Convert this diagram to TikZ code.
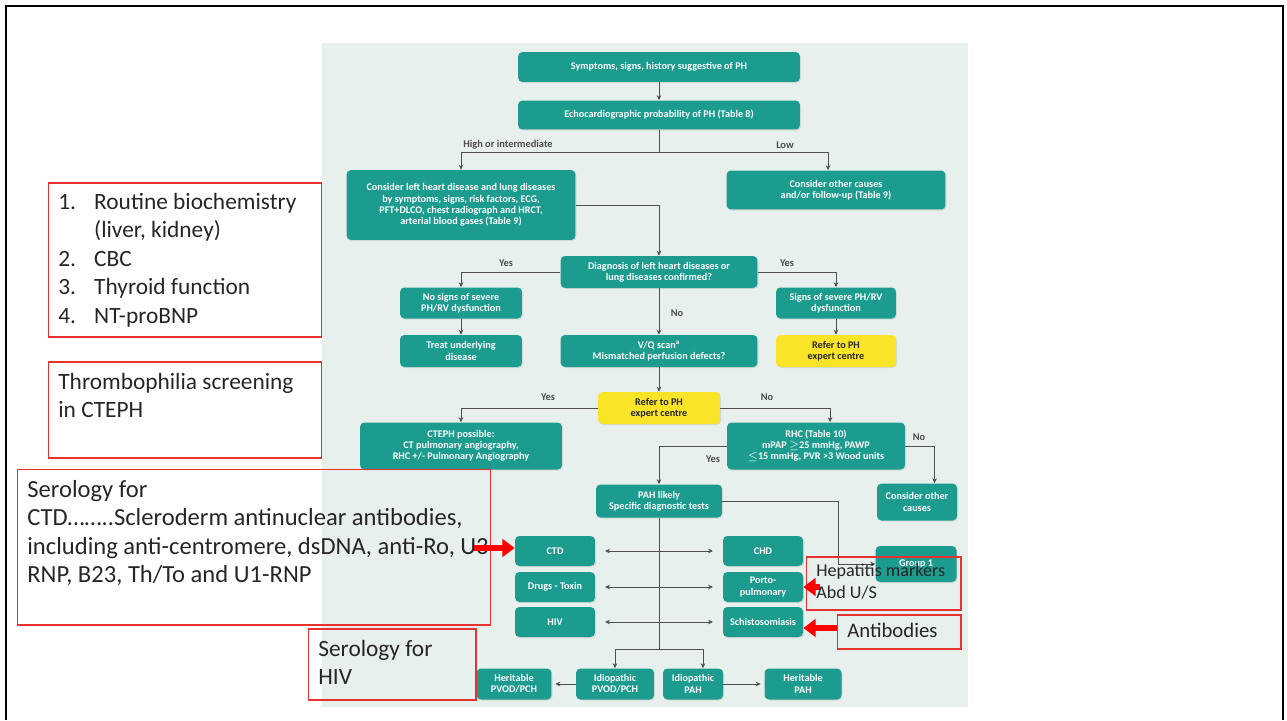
\documentclass[tikz,border=0pt]{standalone}
\usepackage{fontspec}
\setmainfont{Carlito}
\usetikzlibrary{arrows.meta,shadows,calc}
\definecolor{tealc}{RGB}{28,156,142}
\definecolor{bgc}{RGB}{232,240,238}
\definecolor{yel}{RGB}{250,228,40}
\definecolor{annred}{RGB}{232,50,50}
\definecolor{linec}{RGB}{80,80,80}
\definecolor{txt}{RGB}{38,38,38}
\tikzset{
 tb/.style={fill=tealc, rounded corners=2.5pt, text=white, font=\bfseries\fontsize{5.8}{6.4}\selectfont, align=center, inner sep=0pt, drop shadow={opacity=0.2,shadow xshift=0.6pt,shadow yshift=-0.6pt}},
 yb/.style={tb, fill=yel, text=black!85},
 sz/.style 2 args={minimum width=#1*0.569pt, minimum height=#2*0.569pt},
 arr/.style={draw=linec, line width=0.4pt, -{Stealth[length=2.8pt,width=2.6pt]}},
 ln/.style={draw=linec, line width=0.4pt},
 dbl/.style={draw=linec, line width=0.4pt, {Stealth[length=2.8pt,width=2.6pt]}-{Stealth[length=2.8pt,width=2.6pt]}, shorten <=5.5pt, shorten >=5.5pt},
 lbl/.style={font=\bfseries\fontsize{5.9}{6.5}\selectfont, text=black!70, inner sep=0pt},
 ann/.style={draw=annred, line width=0.6pt, inner sep=0pt},
 anntxt/.style={anchor=north west, inner sep=0pt, text=txt},
 redarr/.style={draw=red, line width=3.4pt, -{Triangle[length=7pt,width=10pt]}},
}
\begin{document}
\begin{tikzpicture}[x=0.02cm,y=-0.02cm]
\useasboundingbox (0,0) rectangle (1287,720);
\fill[bgc] (322,43) rectangle (968,707);

% flowchart boxes
\node[tb, sz={282}{30}] (s1) at (659,67) {Symptoms, signs, history suggestive of PH};
\node[tb, sz={282}{29}] (s2) at (659,115) {Echocardiographic probability of PH (Table 8)};
\node[tb, sz={229}{70}] (l1) at (461,205) {Consider left heart disease and lung diseases\\by symptoms, signs, risk factors, ECG,\\PFT+DLCO, chest radiograph and HRCT,\\arterial blood gases (Table 9)};
\node[tb, sz={219}{39}] (r1) at (836,190) {Consider other causes\\and/or follow-up (Table 9)};
\node[tb, sz={197}{32}] (diag) at (659,272) {Diagnosis of left heart diseases or\\lung diseases confirmed?};
\node[tb, sz={122}{31}] (nosev) at (461,303) {No signs of severe\\PH/RV dysfunction};
\node[tb, sz={120}{31}] (sev) at (836,303) {Signs of severe PH/RV\\dysfunction};
\node[tb, sz={122}{32}] (treat) at (461,351) {Treat underlying\\disease};
\node[tb, sz={197}{32}] (vq) at (659,351) {V/Q scan\textsuperscript{a}\\Mismatched perfusion defects?};
\node[yb, sz={120}{32}] (ref1) at (836,351) {Refer to PH\\expert centre};
\node[yb, sz={122}{32}] (ref2) at (659,408) {Refer to PH\\expert centre};
\node[tb, sz={202}{47}] (cteph) at (461,446) {CTEPH possible:\\CT pulmonary angiography,\\RHC +/- Pulmonary Angiography};
\node[tb, sz={178}{47}] (rhc) at (816,446) {RHC (Table 10)\\mPAP $\geq$25 mmHg, PAWP\\$\leq$15 mmHg, PVR >3 Wood units};
\node[tb, sz={126}{33}] (pah) at (659,501) {PAH likely\\Specific diagnostic tests};
\node[tb, sz={80}{37}] (oth) at (917,502) {Consider other\\causes};
\node[tb, sz={81}{36}] (g1) at (916,564) {Group 1};
\node[tb, sz={80}{30}] (ctd) at (555,551) {CTD};
\node[tb, sz={80}{30}] (drug) at (555,587) {Drugs - Toxin};
\node[tb, sz={80}{30}] (hiv) at (555,622) {HIV};
\node[tb, sz={80}{30}] (chd) at (763,551) {CHD};
\node[tb, sz={80}{30}] (porto) at (763,587) {Porto-\\pulmonary};
\node[tb, sz={80}{30}] (schi) at (763,622) {Schistosomiasis};
\node[tb, sz={75}{31}] (hpv) at (514,684) {Heritable\\PVOD/PCH};
\node[tb, sz={78}{31}] (ipv) at (615,684) {Idiopathic\\PVOD/PCH};
\node[tb, sz={60}{31}] (ipah) at (693,684) {Idiopathic\\PAH};
\node[tb, sz={77}{31}] (hpah) at (803,684) {Heritable\\PAH};

% connectors
\coordinate (b1) at (659,152);
\draw[arr] (s1) -- (s2);
\draw[ln] (s2.south) -- (b1);
\draw[arr] (b1) -| (l1.north);
\draw[arr] (b1) -| ([xshift=-4.5pt]r1.north);
\draw[arr] (l1.east) -| (diag.north);
\draw[arr] (diag.west) -| (nosev.north);
\draw[arr] (diag.east) -| (sev.north);
\draw[arr] (nosev) -- (treat);
\draw[arr] (diag) -- (vq);
\draw[arr] (sev) -- (ref1);
\draw[arr] (vq) -- (ref2);
\draw[arr] (ref2.west) -| (cteph.north);
\draw[arr] (ref2.east) -| ([xshift=8pt]rhc.north);
\draw[arr] (rhc.west) -| (pah.north);
\draw[arr] (rhc.east) -| ([xshift=10pt]oth.north);
\coordinate (pt) at (838,501);
\draw[arr] (pah.east) -- (pt) |- (g1.west);
\coordinate (mb) at (659,649);
\draw[ln] (pah.south) -- (mb);
\draw[arr] (mb) -| (ipv.north);
\draw[arr] (mb) -| ([xshift=5.7pt]ipah.north);
\draw[dbl] (ctd) -- (chd);
\draw[dbl] (drug) -- (porto);
\draw[dbl] (hiv) -- (schi);
\draw[arr, shorten >=2pt] (ipv) -- (hpv);
\draw[arr, shorten >=2pt] (ipah) -- (hpah);

% labels
\node[lbl] (lhi) at (508,145) {High or intermediate};
\node[lbl] (llow) at (785,145) {Low};
\node[lbl] (ly1) at (506,263) {Yes};
\node[lbl] (ly2) at (787,263) {Yes};
\node[lbl] (lno1) at (677,313) {No};
\node[lbl] (ly3) at (548,397) {Yes};
\node[lbl] (lno2) at (767,397) {No};
\node[lbl] (ly4) at (713,459) {Yes};
\node[lbl] (lno3) at (919,437) {No};

% annotations
\node[ann, sz={274}{154}] (annA) at (185,260) {};
\node[anntxt, font=\fontsize{13.3}{16.2}\selectfont] (annAt) at (58,189) {\begin{tabular}{@{}p{20.4pt}@{}l@{}}1. & Routine biochemistry\\ & (liver, kidney)\\2. & CBC\\3. & Thyroid function\\4. & NT-proBNP\end{tabular}};
\node[ann, sz={274}{96}] (annB) at (185,410) {};
\node[anntxt, font=\fontsize{13.3}{16.2}\selectfont] (annBt) at (58,369) {\begin{tabular}{@{}l@{}}Thrombophilia screening\\in CTEPH\end{tabular}};
\node[ann, sz={474}{156}] (annC) at (254,547) {};
\node[anntxt, font=\fontsize{14}{16.2}\selectfont] (annCt) at (27,477) {\begin{tabular}{@{}l@{}}Serology for\\CTD……..Scleroderm antinuclear antibodies,\\including anti-centromere, dsDNA, anti-Ro, U3\\RNP, B23, Th/To and U1-RNP\end{tabular}};
\node[ann, sz={168}{71}] (annF) at (392,664.5) {};
\node[anntxt, font=\fontsize{13.3}{16.2}\selectfont] (annFt) at (318,636) {\begin{tabular}{@{}l@{}}Serology for\\HIV\end{tabular}};
\node[ann, sz={155}{53}] (annD) at (883.5,583.5) {};
\node[anntxt, font=\fontsize{10.3}{12.5}\selectfont] (annDt) at (816,561) {\begin{tabular}{@{}l@{}}Hepatitis markers\\Abd U/S\end{tabular}};
\node[ann, sz={124}{34}] (annE) at (899,632) {};
\node[anntxt, font=\fontsize{11.8}{14}\selectfont] (annEt) at (847,620) {\begin{tabular}{@{}l@{}}Antibodies\end{tabular}};

% red arrows
\coordinate (ra1) at (474,548);
\coordinate (ra2) at (820,587);
\coordinate (ra3) at (837,628);
\draw[redarr] (ra1) -- (ctd.west |- ra1);
\draw[redarr] (ra2) -- (porto.east);
\draw[redarr] (ra3) -- (schi.east |- ra3);

% frame
\draw[line width=1.5pt] (6,720) -- (6,6) -- (1283,6) -- (1283,720);
\end{tikzpicture}
\end{document}
